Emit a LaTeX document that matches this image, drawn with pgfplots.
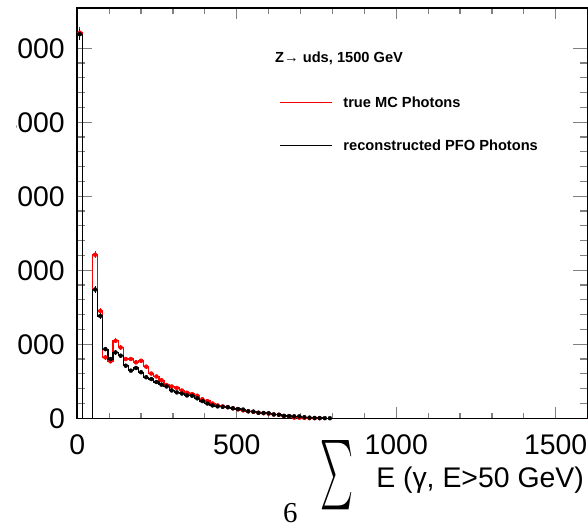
\documentclass[border=0pt]{standalone}
\usepackage{fontspec}
\setmainfont{Liberation Sans}
\newfontfamily\seriffont{Liberation Serif}
\usepackage{graphicx}
\usepackage{pgfplots}
\usepackage{pgfplotstable}
\pgfplotsset{compat=1.18}
\pgfplotstableread{
x red rerr black berr
0 5210 72 5190 72
16 0 0 0 0
32 0 0 0 0
48 2210 47 1740 42
64 1450 38 1383 37
80 823 29 935 31
96 770 28 801 28
112 1047 32 890 30
128 957 31 846 29
144 801 28 711 27
160 801 28 644 25
176 756 27 680 26
192 778 28 622 25
208 698 26 555 24
224 605 25 530 23
240 565 24 490 22
256 515 23 455 21
272 450 21 430 21
288 430 21 376 19
304 410 20 350 19
320 376 19 335 18
336 345 19 309 18
352 328 18 305 17
368 305 17 270 16
384 258 16 233 15
400 233 15 200 14
416 200 14 174 13
432 174 13 161 13
448 161 13 155 12
464 150 12 150 12
480 135 12 135 12
496 120 11 125 11
512 107 10 118 11
528 95 10 94 10
544 88 9 90 9
560 75 9 75 9
576 68 8 72 8
592 63 8 68 8
608 52 7 52 7
624 48 7 48 7
640 31 6 33 6
656 30 5 30 5
672 9 3 27 5
688 8 3 26 5
704 5 2 15 4
720 2 1 9 3
736 1 1 5 2
752 1 1 3 2
768 0 0 2 1
784 0 0 1 1
800 0 0 0 0
1600 0 0 0 0
}\histdata
\begin{document}
\begin{tikzpicture}
\begin{scope}
\clip (-60.3bp,-105.7bp) rectangle (512bp,418.3bp);
\begin{axis}[
  name=ax,
  at={(0,0)}, anchor=south west,
  scale only axis,
  width=510.3bp, height=410bp,
  xmin=0, xmax=1600, ymin=0, ymax=5540,
  axis line style={line width=1.6bp},
  xtick={0,500,1000,1500},
  ytick={0,1000,2000,3000,4000,5000},
  minor x tick num=4, minor y tick num=4,
  tick align=inside, tick pos=both,
  xtick style={line width=1.2bp, /pgfplots/major tick length=11bp, /pgfplots/minor tick length=5.5bp},
  ytick style={line width=1.2bp, /pgfplots/major tick length=15bp, /pgfplots/minor tick length=7.5bp},
  scaled ticks=false,
  /pgf/number format/assume math mode=true,
  /pgf/number format/1000 sep={},
  tick label style={font=\fontsize{28.5}{30}\selectfont},
  xticklabel style={anchor=base, inner sep=0pt, yshift=-35.7bp},
  yticklabel style={anchor=east, inner sep=0pt, xshift=-12.3bp},
  legend style={at={(0.3953,0.7844)}, anchor=north west, draw=none, fill=none, inner sep=0pt,
    row sep=32.5bp, column sep=11bp,
    nodes={inner sep=0pt, text height=10.5bp, text depth=0bp, font=\fontsize{14.7}{16}\selectfont\bfseries}},
  legend cell align=left,
  legend image code/.code={\draw[#1] (0bp,0bp) -- (52bp,0bp);},
]
\addplot[red, line width=1.2bp, const plot mark left] table[x=x, y=red] {\histdata};
\addlegendentry{true MC Photons}
\addplot[forget plot, red, only marks, mark=none, restrict y to domain=0.5:10000,
  error bars/.cd, y dir=both, y explicit, error mark=none,
  error bar style={red, line width=1.2bp}] table[x expr=\thisrow{x}+8, y=red, y error=rerr] {\histdata};
\addplot[black, line width=1.2bp, const plot mark left] table[x=x, y=black] {\histdata};
\addlegendentry{reconstructed PFO Photons}
\addplot[forget plot, black, only marks, mark=none, restrict y to domain=0.5:10000,
  error bars/.cd, y dir=both, y explicit, error mark=none,
  error bar style={black, line width=1.2bp}] table[x expr=\thisrow{x}+8, y=black, y error=berr] {\histdata};
\end{axis}
\node[anchor=base west, inner sep=0pt, font=\fontsize{14.7}{16}\selectfont\bfseries] at (197.7bp,356bp) {Z→ uds, 1500 GeV};
\node[anchor=base east, inner sep=0pt, font=\fontsize{28.5}{30}\selectfont] at (506.7bp,-68.7bp) {E (γ, E>50 GeV)};
\node[anchor=south west, inner sep=0pt] at (242.7bp,-91.7bp) {\resizebox{33bp}{52bp}{$\sum$}};
\node[anchor=base west, inner sep=0pt, font=\seriffont\fontsize{29}{30}\selectfont] at (205.7bp,-104.5bp) {6};
\end{scope}
\pgfresetboundingbox
\path[use as bounding box] (-77.3bp,-105.7bp) rectangle (510.7bp,418.3bp);
\end{tikzpicture}
\end{document}
